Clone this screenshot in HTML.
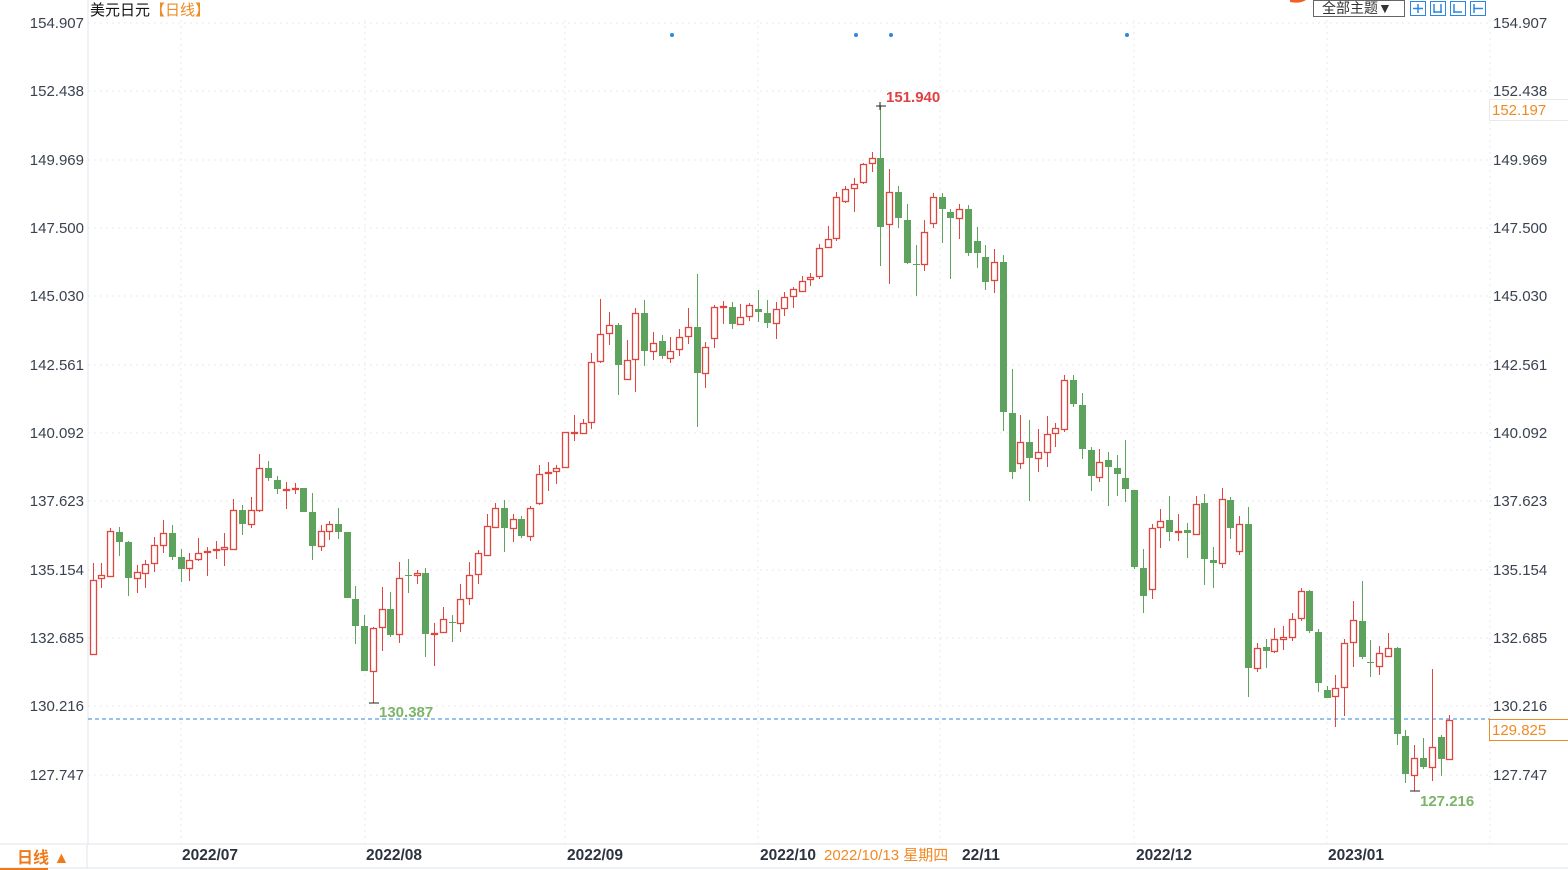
<!DOCTYPE html>
<html><head><meta charset="utf-8"><style>
html,body{margin:0;padding:0;background:#fff;width:1568px;height:870px;overflow:hidden}
svg text{font-family:"Liberation Sans","Noto Sans CJK SC",sans-serif}
</style></head><body>
<svg id="s" width="1568" height="870" xmlns="http://www.w3.org/2000/svg">
<rect width="1568" height="870" fill="#fff"/>
<g stroke="#e4e8ee" stroke-dasharray="2,4" stroke-width="1">
<line x1="88" y1="23" x2="1490" y2="23"/><line x1="88" y1="91" x2="1490" y2="91"/>
<line x1="88" y1="160" x2="1490" y2="160"/><line x1="88" y1="228" x2="1490" y2="228"/>
<line x1="88" y1="296" x2="1490" y2="296"/><line x1="88" y1="365" x2="1490" y2="365"/>
<line x1="88" y1="433" x2="1490" y2="433"/><line x1="88" y1="501" x2="1490" y2="501"/>
<line x1="88" y1="570" x2="1490" y2="570"/><line x1="88" y1="638" x2="1490" y2="638"/>
<line x1="88" y1="706" x2="1490" y2="706"/><line x1="88" y1="775" x2="1490" y2="775"/>
<line x1="181" y1="20" x2="181" y2="843"/><line x1="365" y1="20" x2="365" y2="843"/>
<line x1="565" y1="20" x2="565" y2="843"/><line x1="758" y1="20" x2="758" y2="843"/>
<line x1="940" y1="20" x2="940" y2="843"/><line x1="1134" y1="20" x2="1134" y2="843"/>
<line x1="1327" y1="20" x2="1327" y2="843"/><line x1="1490" y1="20" x2="1490" y2="843"/>
</g>
<line x1="88" y1="0" x2="88" y2="845" stroke="#e2e6ec"/>
<line x1="0" y1="844" x2="1568" y2="844" stroke="#dfe3e8"/>
<line x1="0" y1="868" x2="1568" y2="868" stroke="#dfe3e8"/>
<line x1="87" y1="845" x2="87" y2="868" stroke="#dfe3e8"/>
<line x1="0" y1="869" x2="48" y2="869" stroke="#f07a1a" stroke-width="2"/>
<line x1="88" y1="719" x2="1490" y2="719" stroke="#2d86e0" stroke-dasharray="4,3"/>
<g id="c"></g>
<g fill="#2d86e0"><circle cx="672" cy="35" r="2"/><circle cx="856" cy="35" r="2"/><circle cx="891" cy="35" r="2"/><circle cx="1127" cy="35" r="2"/></g>
<g stroke="#222"><line x1="876" y1="106" x2="886" y2="106"/><line x1="880" y1="102" x2="880" y2="110"/>
<line x1="369" y1="703" x2="379" y2="703"/><line x1="1410" y1="791" x2="1420" y2="791"/></g>
<text x="886" y="102" font-size="15" font-weight="bold" fill="#e04040">151.940</text>
<text x="379" y="717" font-size="15" font-weight="bold" fill="#7cb46a">130.387</text>
<text x="1420" y="806" font-size="15" font-weight="bold" fill="#7cb46a">127.216</text>
<g font-size="15" fill="#3a4250" text-anchor="end">
<text x="84" y="28">154.907</text><text x="84" y="96">152.438</text><text x="84" y="165">149.969</text>
<text x="84" y="233">147.500</text><text x="84" y="301">145.030</text><text x="84" y="370">142.561</text>
<text x="84" y="438">140.092</text><text x="84" y="506">137.623</text><text x="84" y="575">135.154</text>
<text x="84" y="643">132.685</text><text x="84" y="711">130.216</text><text x="84" y="780">127.747</text>
</g>
<g font-size="15" fill="#3a4250">
<text x="1493" y="28">154.907</text><text x="1493" y="96">152.438</text><text x="1493" y="165">149.969</text>
<text x="1493" y="233">147.500</text><text x="1493" y="301">145.030</text><text x="1493" y="370">142.561</text>
<text x="1493" y="438">140.092</text><text x="1493" y="506">137.623</text><text x="1493" y="575">135.154</text>
<text x="1493" y="643">132.685</text><text x="1493" y="711">130.216</text><text x="1493" y="780">127.747</text>
</g>
<rect x="1489.5" y="99.5" width="80" height="21" fill="#fff" stroke="#e8e8e8"/>
<text x="1492" y="115" font-size="15" fill="#f08a24">152.197</text>
<rect x="1489.5" y="719.5" width="80" height="21" fill="#fff" stroke="#f08a24"/>
<text x="1492" y="735" font-size="15" fill="#f08a24">129.825</text>
<g font-size="15.5" font-weight="bold" fill="#2c3340">
<text x="182" y="860">2022/07</text><text x="366" y="860">2022/08</text><text x="567" y="860">2022/09</text>
<text x="760" y="860">2022/10</text><text x="962" y="860">22/11</text><text x="1136" y="860">2022/12</text>
<text x="1328" y="860">2023/01</text>
</g>
<rect x="820" y="846" width="138" height="20" fill="#fff"/>
<text x="824" y="860" font-size="15" fill="#f08a24">2022/10/13 星期四</text>
<text x="17" y="863" font-size="16" font-weight="bold" fill="#f07a1a">日线 ▲</text>
<text x="90" y="15" font-size="15" fill="#111">美元日元<tspan fill="#f08a24">【日线】</tspan></text>
<rect x="1313.5" y="0.5" width="91" height="16" fill="#fff" stroke="#666"/>
<text x="1322" y="13" font-size="14" fill="#333">全部主题▼</text>
<g fill="#fff" stroke="#2d86e0"><rect x="1410.5" y="1.5" width="15" height="14"/><rect x="1430.5" y="1.5" width="15" height="14"/><rect x="1450.5" y="1.5" width="15" height="14"/><rect x="1470.5" y="1.5" width="15" height="14"/></g>
<g stroke="#2d86e0" stroke-width="1.5"><line x1="1418" y1="4" x2="1418" y2="13"/><line x1="1413" y1="8.5" x2="1423" y2="8.5"/>
<line x1="1434" y1="4" x2="1434" y2="13"/><line x1="1441" y1="4" x2="1441" y2="13"/><line x1="1434" y1="12" x2="1442" y2="12"/>
<line x1="1454" y1="4" x2="1454" y2="13"/><line x1="1454" y1="12" x2="1462" y2="12"/><line x1="1474" y1="4" x2="1474" y2="13"/><line x1="1474" y1="8.5" x2="1483" y2="8.5"/></g>
<path d="M1290 0 h16 q-6 4 -16 2z" fill="#f06020"/>
</svg>
<script>
var d=[[93,580,654,563,654,'r'],[101,575,578,563,588,'r'],[110,531,576,528,577,'r'],[119,532,542,527,556,'g'],[128,542,578,541,596,'g'],[137,572,578,565,593,'r'],[145,564,573,560,588,'r'],[154,545,563,537,572,'r'],[163,533,545,520,553,'r'],[172,533,557,525,560,'g'],[181,557,569,549,582,'g'],[189,560,568,553,581,'r'],[198,553,559,538,561,'r'],[207,551,552,547,576,'r'],[216,549,550,541,559,'r'],[224,547,549,533,566,'r'],[233,510,549,499,549,'r'],[242,510,524,505,535,'g'],[251,510,524,497,528,'r'],[259,468,510,454,512,'r'],[268,468,478,461,481,'g'],[277,480,489,476,494,'g'],[286,489,490,482,509,'r'],[295,488,489,483,494,'r'],[303,488,512,488,512,'g'],[312,512,546,493,560,'g'],[321,531,546,525,551,'r'],[329,524,531,521,540,'r'],[338,524,532,508,539,'g'],[347,532,598,532,598,'g'],[355,599,626,586,644,'g'],[364,626,671,615,671,'g'],[373,628,671,627,703,'r'],[382,609,627,587,651,'r'],[390,609,635,592,637,'g'],[399,578,634,562,643,'r'],[408,575,576,559,593,'g'],[417,573,575,570,584,'r'],[425,573,634,568,657,'g'],[434,633,634,623,666,'r'],[443,619,632,607,633,'r'],[452,622,623,615,642,'g'],[460,599,623,584,632,'r'],[469,575,598,562,605,'r'],[478,553,574,550,584,'r'],[487,526,555,514,555,'r'],[495,508,527,503,528,'r'],[504,508,528,500,552,'g'],[513,519,528,514,542,'r'],[521,519,536,516,538,'g'],[530,508,536,506,541,'r'],[539,474,503,465,505,'r'],[548,472,473,462,491,'r'],[556,468,471,465,484,'r'],[565,432,467,432,467,'r'],[574,432,433,415,441,'r'],[583,423,433,419,433,'r'],[591,362,422,353,429,'r'],[600,334,361,299,363,'r'],[609,325,333,312,345,'r'],[618,325,365,323,395,'g'],[627,360,379,340,379,'r'],[635,313,359,308,392,'r'],[644,313,351,300,366,'g'],[653,343,351,332,360,'r'],[662,341,356,335,359,'g'],[670,351,358,337,363,'r'],[679,337,349,329,356,'r'],[688,327,336,308,344,'r'],[697,327,373,274,427,'g'],[705,347,373,342,388,'r'],[714,307,338,305,348,'r'],[723,306,307,301,324,'r'],[732,307,324,302,329,'g'],[740,317,324,304,324,'r'],[749,305,316,303,321,'r'],[758,309,312,290,322,'g'],[767,313,323,300,328,'g'],[776,309,323,302,339,'r'],[784,297,308,292,316,'r'],[793,289,296,287,308,'r'],[802,281,291,276,292,'r'],[810,277,279,273,286,'r'],[819,248,276,244,279,'r'],[828,239,247,226,247,'r'],[836,197,238,192,241,'r'],[845,189,201,186,203,'r'],[854,184,188,178,212,'r'],[863,164,182,163,184,'r'],[872,158,163,152,172,'r'],[880,158,227,106,266,'g'],[889,192,224,169,284,'r'],[898,192,218,186,228,'g'],[907,220,263,204,264,'g'],[916,264,265,245,296,'g'],[924,232,264,220,271,'r'],[933,197,223,193,228,'r'],[942,197,209,193,243,'g'],[950,212,218,209,279,'g'],[959,209,218,204,239,'r'],[968,209,253,205,256,'g'],[977,241,253,227,268,'g'],[985,257,282,245,290,'g'],[994,262,280,249,293,'r'],[1003,262,412,255,431,'g'],[1012,413,472,369,479,'g'],[1020,442,463,415,469,'r'],[1029,442,458,420,501,'g'],[1038,452,458,429,472,'r'],[1047,434,452,416,467,'r'],[1055,428,433,423,447,'r'],[1064,380,429,375,432,'r'],[1073,380,404,375,407,'g'],[1082,405,449,393,459,'g'],[1091,450,476,447,491,'g'],[1099,462,477,449,482,'r'],[1108,460,467,452,506,'g'],[1117,468,474,455,496,'g'],[1125,478,489,440,502,'g'],[1134,490,567,490,569,'g'],[1143,568,596,549,613,'g'],[1152,528,589,524,599,'r'],[1160,521,527,509,548,'r'],[1169,520,532,496,541,'g'],[1178,531,532,514,541,'r'],[1187,530,533,523,558,'g'],[1196,504,534,496,534,'r'],[1204,503,559,494,585,'g'],[1213,560,563,547,588,'g'],[1222,499,563,488,568,'r'],[1230,500,528,497,539,'g'],[1239,524,551,516,555,'r'],[1248,524,668,507,697,'g'],[1257,648,668,643,672,'r'],[1266,647,651,639,668,'g'],[1274,639,651,628,653,'r'],[1283,637,639,626,650,'r'],[1292,619,637,613,641,'r'],[1301,591,618,588,621,'r'],[1309,591,631,590,633,'g'],[1318,632,683,629,692,'g'],[1327,690,698,686,698,'g'],[1335,688,696,675,727,'r'],[1344,643,687,639,716,'r'],[1353,620,642,601,667,'r'],[1362,621,657,581,659,'g'],[1370,662,663,640,677,'g'],[1379,653,666,646,675,'r'],[1388,648,656,633,656,'r'],[1397,648,734,647,745,'g'],[1405,736,774,730,783,'g'],[1414,758,775,745,791,'r'],[1423,758,767,738,769,'g'],[1432,747,767,669,781,'r'],[1441,737,759,735,776,'g'],[1449,720,759,715,759,'r']];
var g=document.getElementById('c'),h='';
d.forEach(function(c){var x=c[0],col=c[5]=='r'?'#e0463f':'#5da35d';
h+='<line x1="'+(x+.5)+'" y1="'+c[3]+'" x2="'+(x+.5)+'" y2="'+c[4]+'" stroke="'+col+'"/>';
var bh=Math.max(c[2]-c[1],1);
if(c[5]=='r')h+='<rect x="'+(x-2.5)+'" y="'+(c[1]+.5)+'" width="6" height="'+bh+'" fill="#fff" stroke="'+col+'" stroke-width="1.3"/>';
else h+='<rect x="'+(x-3)+'" y="'+c[1]+'" width="7" height="'+bh+'" fill="'+col+'"/>';});
g.innerHTML=h;
</script>
</body></html>
